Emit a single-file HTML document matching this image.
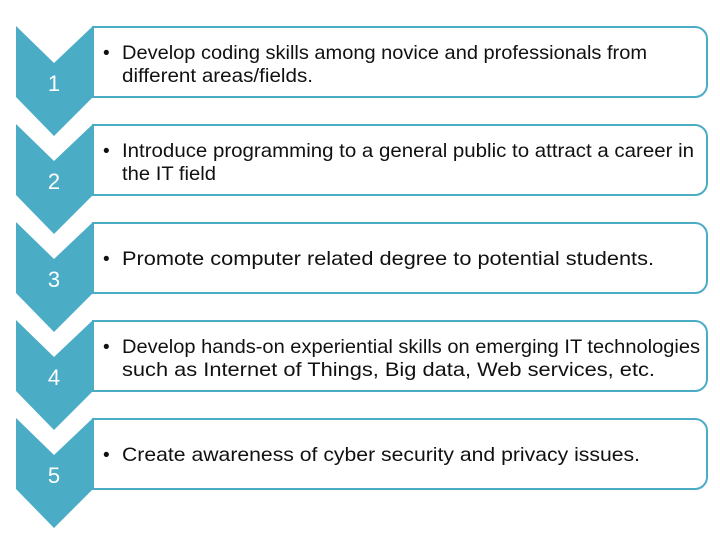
<!DOCTYPE html>
<html><head><meta charset="utf-8"><style>
html,body{margin:0;padding:0;background:#fff;width:720px;height:540px;overflow:hidden}
text{font-family:"Liberation Sans",sans-serif}
</style></head><body>
<svg width="720" height="540" viewBox="0 0 720 540">
<g id="g"></g>
</svg>
<script>
const nums=["1","2","3","4","5"];
const lines=[
 ["Develop coding skills among novice and professionals from","different areas/fields."],
 ["Introduce programming to a general public to attract a career in","the IT field"],
 ["Promote computer related degree to potential students."],
 ["Develop hands-on experiential skills on emerging IT technologies","such as Internet of Things, Big data, Web services, etc."],
 ["Create awareness of cyber security and privacy issues."]
];
const widths=[[525,191],[572,94],[532],[578,533],[518]];
const g=document.getElementById('g');
const NS='http://www.w3.org/2000/svg';
function mk(t,a){const e=document.createElementNS(NS,t);for(const k in a)e.setAttribute(k,a[k]);return e;}
nums.forEach((n,i)=>{
 const o=i*98;
 const step=mk('g',{});
 
 
 const chev=mk('polygon',{points:`16,${26+o} 54,${63+o} 93,${26+o} 93,${97+o} 54,${136+o} 16,${97+o}`,fill:'#4BACC6'});
 
 
 step.appendChild(chev);
 const num=mk('text',{x:54,y:91+o,'text-anchor':'middle','font-size':22,fill:'#fff'});
 num.textContent=n;
 
 
 step.appendChild(num);
 const box=mk('path',{d:`M93,${27+o} H695 a12,12 0 0 1 12,12 V${85+o} a12,12 0 0 1 -12,12 H93 Z`,fill:'#fff',stroke:'#4BACC6','stroke-width':2});
 
 
 step.appendChild(box);
 const L=lines[i];
 const y0=L.length==2?59+o:69+o;
 const b=mk('text',{x:103,y:y0,'font-size':19,fill:'#111'});b.textContent='•';
 
 
 step.appendChild(b);
 L.forEach((s,j)=>{
  const t=mk('text',{x:122,y:y0+j*23,'font-size':19.5,fill:'#111',textLength:widths[i][j],lengthAdjust:'spacingAndGlyphs'});
  t.textContent=s;
  
  
  step.appendChild(t);
 });
 g.appendChild(step);
});
</script>
</body></html>
